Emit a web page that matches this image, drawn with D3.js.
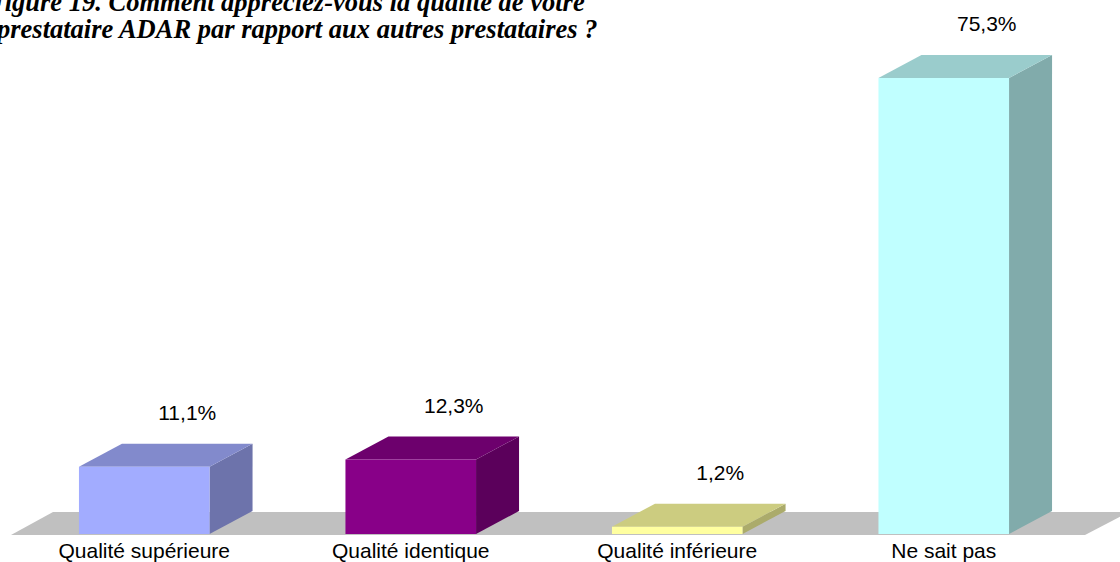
<!DOCTYPE html>
<html>
<head>
<meta charset="utf-8">
<script src="https://cdn.jsdelivr.net/npm/d3@7"></script>
<style>
  body { margin: 0; background: #fff; }
  svg { display: block; }
</style>
</head>
<body>
<script>
// Data.
const categories = ['Qualité supérieure', 'Qualité identique', 'Qualité inférieure', 'Ne sait pas'];
const values = [11.1, 12.3, 1.2, 75.3];
const frontColors = ['#a2acff', '#880088', '#ffffa0', '#c0ffff'];
const titleLines = [
  'Figure 19. Comment appréciez-vous la qualité de votre',
  'prestataire ADAR par rapport aux autres prestataires ?'
];

const width = 1120;
const height = 562;

// Depth of the 3D effect.
const depthX = 43;
const depthY = -23;

const frLocale = d3.formatLocale({decimal: ',', thousands: ' ', grouping: [3], currency: ['', ' €']});
const fmt = frLocale.format('.1f');

const svg = d3.select('body')
  .append('svg')
  .attr('width', width)
  .attr('height', height);

// Scales.
const xScale = d3.scaleBand()
  .domain(categories)
  .range([11, 1077])
  .paddingInner(0.51)
  .paddingOuter(0.255);

const yScale = d3.scaleLinear()
  .domain([0, 75.3])
  .range([534, 78]);

const y0 = yScale(0);

// Floor.
const floorLeft = 11;
const floorRight = 1085;
svg.append('path')
  .attr('d', 'M' + floorLeft + ',' + (y0 + 1) +
    'L' + floorRight + ',' + (y0 + 1) +
    'L' + (floorRight + depthX + 1) + ',' + (y0 + 1 + depthY) +
    'L' + (floorLeft + depthX - 1) + ',' + (y0 + 1 + depthY) + 'Z')
  .attr('fill', '#c0c0c0');

function shade(color, k)
{
  const c = d3.rgb(color);
  return d3.rgb(c.r * k, c.g * k, c.b * k).formatHex();
}

const bars = svg.selectAll('g.bar')
  .data(values)
  .enter()
  .append('g')
  .attr('class', 'bar');

// Side face.
bars.append('path')
  .attr('d', (d, i) =>
  {
    const x1 = xScale(categories[i]) + xScale.bandwidth();
    const yt = yScale(d);
    return 'M' + x1 + ',' + y0 + 'L' + (x1 + depthX) + ',' + (y0 + depthY) +
      'L' + (x1 + depthX) + ',' + (yt + depthY) + 'L' + x1 + ',' + yt + 'Z';
  })
  .attr('fill', (d, i) => shade(frontColors[i], 0.67));

// Top face.
bars.append('path')
  .attr('d', (d, i) =>
  {
    const x0 = xScale(categories[i]);
    const x1 = x0 + xScale.bandwidth();
    const yt = yScale(d);
    return 'M' + x0 + ',' + yt + 'L' + x1 + ',' + yt +
      'L' + (x1 + depthX) + ',' + (yt + depthY) + 'L' + (x0 + depthX) + ',' + (yt + depthY) + 'Z';
  })
  .attr('fill', (d, i) => shade(frontColors[i], 0.8));

// Front face.
bars.append('rect')
  .attr('x', (d, i) => xScale(categories[i]))
  .attr('y', (d) => yScale(d))
  .attr('width', xScale.bandwidth())
  .attr('height', (d) => y0 - yScale(d))
  .attr('fill', (d, i) => frontColors[i]);

// Value labels.
bars.append('text')
  .attr('x', (d, i) => xScale(categories[i]) + xScale.bandwidth() / 2 + depthX)
  .attr('y', (d) => yScale(d) + depthY - 24)
  .attr('text-anchor', 'middle')
  .style('font-family', 'Liberation Sans, Arial, sans-serif')
  .style('font-size', '21px')
  .attr('fill', '#000')
  .text((d) => fmt(d) + '%');

// Category labels.
svg.selectAll('text.cat')
  .data(categories)
  .enter()
  .append('text')
  .attr('class', 'cat')
  .attr('x', (d) => xScale(d) + xScale.bandwidth() / 2)
  .attr('y', 558)
  .attr('text-anchor', 'middle')
  .style('font-family', 'Liberation Sans, Arial, sans-serif')
  .style('font-size', '21px')
  .attr('fill', '#000')
  .text((d) => d);

// Title (cut off at the top-left, as in the original).
svg.selectAll('text.title')
  .data(titleLines)
  .enter()
  .append('text')
  .attr('class', 'title')
  .attr('x', (d, i) => i === 0 ? -13 : -3)
  .attr('y', (d, i) => 11 + i * 27)
  .style('font-family', 'Liberation Serif, Times New Roman, serif')
  .style('font-size', '26.5px')
  .style('font-weight', 'bold')
  .style('font-style', 'italic')
  .attr('fill', '#000')
  .text((d) => d);
</script>
</body>
</html>
